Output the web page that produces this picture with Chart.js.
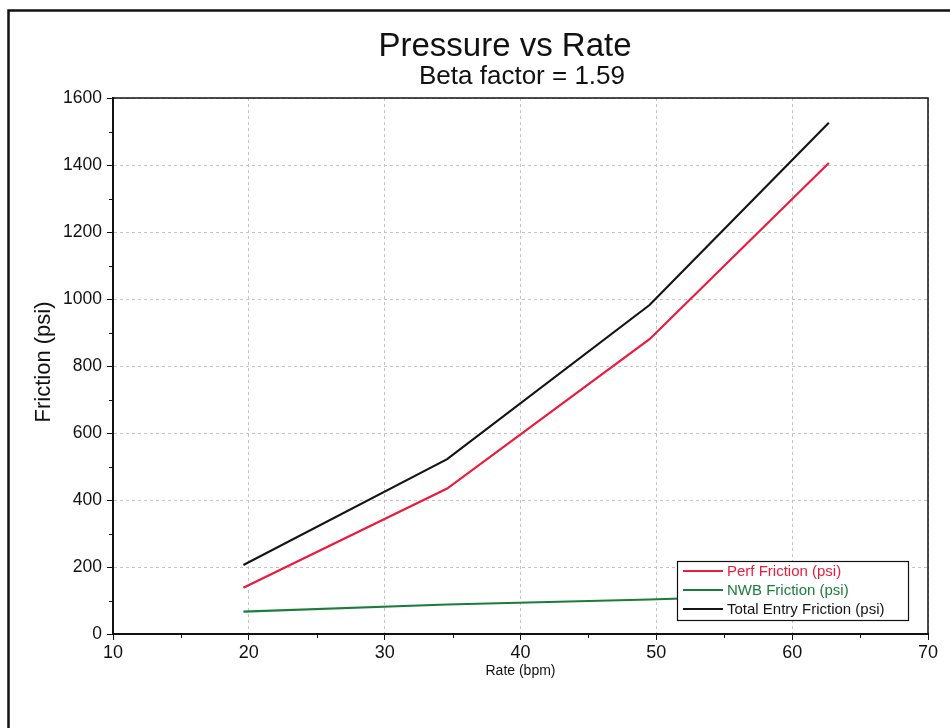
<!DOCTYPE html>
<html>
<head>
<meta charset="utf-8">
<script src="https://cdn.jsdelivr.net/npm/chart.js@4/dist/chart.umd.min.js"></script>
<style>
  html, body { margin: 0; padding: 0; background: #fff; }
  #wrap { width: 950px; height: 728px; position: relative; }
</style>
</head>
<body>
<div id="wrap"><canvas id="c" width="950" height="728"></canvas></div>
<script>
// ---- data ----
const rates = [19.6, 34.6, 49.5, 62.7];           // Rate (bpm)
const perfFriction = [138, 434, 880, 1406];       // Perf Friction (psi)
const nwbFriction = [67, 88, 103, 120];           // NWB Friction (psi)
const totalFriction = [206, 522, 982, 1526];      // Total Entry Friction (psi)
const seriesNames = ['Perf Friction (psi)', 'NWB Friction (psi)', 'Total Entry Friction (psi)'];
const seriesColors = ['#ec1a3c', '#1a7d3c', '#151515'];
const titleText = 'Pressure vs Rate';
const subtitleText = 'Beta factor = 1.59';
const xTitle = 'Rate (bpm)';
const yTitle = 'Friction (psi)';

const FONT = '"Liberation Sans", Arial, sans-serif';

function pts(ys) { return rates.map((r, i) => ({ x: r, y: ys[i] })); }

const decorPlugin = {
  id: 'decor',
  afterDraw(chart) {
    const ctx = chart.ctx;
    const a = chart.chartArea;
    const xs = chart.scales.x, ys = chart.scales.y;
    ctx.save();
    // outer frame (left + top)
    ctx.strokeStyle = '#111';
    ctx.lineWidth = 2.5;
    ctx.beginPath();
    ctx.moveTo(8.5, 728); ctx.lineTo(8.5, 10.5); ctx.lineTo(950, 10.5);
    ctx.stroke();
    // plot box top + right
    ctx.lineWidth = 1.5;
    ctx.beginPath();
    ctx.moveTo(a.left, a.top); ctx.lineTo(a.right, a.top); ctx.lineTo(a.right, a.bottom);
    ctx.stroke();
    // minor ticks
    ctx.lineWidth = 1;
    ctx.strokeStyle = '#111';
    ctx.beginPath();
    for (let v = 15; v < 70; v += 10) {
      const px = Math.round(xs.getPixelForValue(v)) + 0.5;
      ctx.moveTo(px, a.bottom); ctx.lineTo(px, a.bottom + 4);
    }
    for (let v = 100; v < 1600; v += 200) {
      const py = Math.round(ys.getPixelForValue(v)) + 0.5;
      ctx.moveTo(a.left, py); ctx.lineTo(a.left - 4, py);
    }
    ctx.stroke();
    // titles
    ctx.fillStyle = '#111';
    ctx.textAlign = 'center';
    ctx.textBaseline = 'alphabetic';
    ctx.font = '33px ' + FONT;
    ctx.fillText(titleText, 505, 56);
    ctx.font = '26px ' + FONT;
    ctx.fillText(subtitleText, 522, 84);
    // axis titles
    ctx.font = '14px ' + FONT;
    ctx.fillText(xTitle, (a.left + a.right) / 2, 675);
    ctx.save();
    ctx.translate(50, 362);
    ctx.rotate(-Math.PI / 2);
    ctx.font = '22px ' + FONT;
    ctx.fillText(yTitle, 0, 0);
    ctx.restore();
    // legend
    const lx = 677, ly = 561, lw = 231, lh = 59;
    ctx.fillStyle = '#fff';
    ctx.fillRect(lx, ly, lw, lh);
    ctx.strokeStyle = '#111';
    ctx.lineWidth = 1.2;
    ctx.strokeRect(lx + 0.5, ly + 0.5, lw, lh);
    ctx.textAlign = 'left';
    ctx.textBaseline = 'middle';
    ctx.font = '15px ' + FONT;
    chart.data.datasets.forEach((ds, i) => {
      const yy = ly + 10 + i * 19;
      ctx.strokeStyle = ds.borderColor;
      ctx.lineWidth = 2;
      ctx.beginPath();
      ctx.moveTo(lx + 6, yy); ctx.lineTo(lx + 46, yy);
      ctx.stroke();
      ctx.fillStyle = ds.borderColor;
      ctx.fillText(ds.label, lx + 50, yy + 1);
    });
    ctx.restore();
  }
};

new Chart(document.getElementById('c'), {
  type: 'line',
  data: {
    datasets: [
      { label: seriesNames[0], data: pts(perfFriction), borderColor: seriesColors[0] },
      { label: seriesNames[1], data: pts(nwbFriction), borderColor: seriesColors[1] },
      { label: seriesNames[2], data: pts(totalFriction), borderColor: seriesColors[2] }
    ].map(d => Object.assign(d, { borderWidth: 2.2, pointRadius: 0, tension: 0, fill: false }))
  },
  options: {
    responsive: false,
    animation: false,
    devicePixelRatio: 1,
    layout: { padding: { top: 98, right: 22, left: 0, bottom: 0 } },
    plugins: { legend: { display: false }, title: { display: false }, tooltip: { enabled: false } },
    scales: {
      x: {
        type: 'linear', min: 10, max: 70,
        afterFit(s) { s.height = 94; },
        ticks: { stepSize: 10, color: '#111', padding: 2, font: { family: FONT, size: 18 }, maxRotation: 0,
                 callback: v => String(v) },
        grid: { color: '#c4c4c4', lineWidth: 1, tickLength: 6, tickColor: '#111' },
        border: { color: '#111', width: 2, dash: [3, 3] }
      },
      y: {
        min: 0, max: 1600,
        afterFit(s) { s.width = 113; },
        ticks: { stepSize: 200, color: '#111', padding: 5, font: { family: FONT, size: 17.5 },
                 callback: v => String(v) },
        grid: { color: '#c4c4c4', lineWidth: 1, tickLength: 6, tickColor: '#111' },
        border: { color: '#111', width: 2, dash: [3, 3] }
      }
    }
  },
  plugins: [decorPlugin]
});
</script>
</body>
</html>
